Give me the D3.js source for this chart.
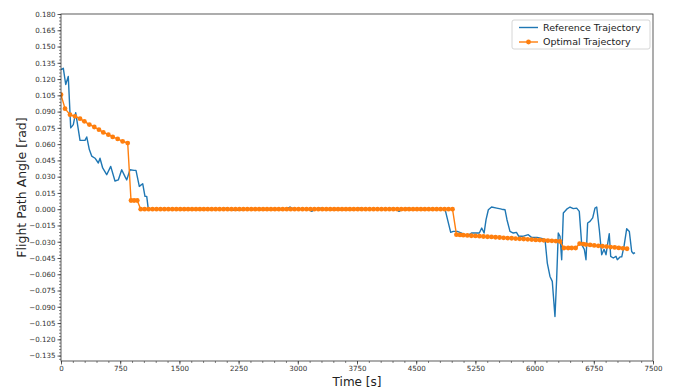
<!DOCTYPE html>
<html><head><meta charset="utf-8">
<script src="https://cdn.jsdelivr.net/npm/d3@7"></script>
<style>body{margin:0;background:#fff}svg{display:block}text{font-family:"DejaVu Sans",sans-serif}</style>
</head><body><svg id="c" width="673" height="387"></svg>
<script>
const refTime=[0,9,29,60,92,123,156,186,241,304,326,359,389,431,473,494,528,579,630,684,726,769,811,833,874,925,950,992,1035,1064,1086,1106,1500,2050,2099,2150,2250,2350,2450,2600,2850,2901,2950,3130,3176,3220,3281,3330,3500,3740,3788,3840,4160,4206,4250,4282,4330,4396,4450,4865,4937,4970,5020,5076,5097,5160,5200,5260,5300,5330,5360,5385,5414,5455,5520,5583,5625,5650,5688,5730,5770,5800,5850,5920,5960,6030,6090,6132,6161,6195,6224,6258,6279,6300,6322,6343,6364,6407,6449,6491,6533,6566,6597,6630,6651,6672,6702,6736,6765,6787,6820,6850,6880,6905,6921,6946,6964,6997,7031,7048,7082,7104,7133,7167,7200,7230,7251,7272];
const refAngle=[0.129,0.129,0.130,0.115,0.1225,0.075,0.078,0.089,0.0635,0.0635,0.0666,0.055,0.049,0.047,0.0426,0.047,0.038,0.0318,0.0395,0.026,0.027,0.0364,0.030,0.027,0.0364,0.0358,0.0358,0.021,0.0235,0.0118,0.0118,0.000,0,0,0.001,-0.001,-0.001,0,0.0005,0,0,0.002,0,0,-0.002,0,0.001,0,-0.0005,0,0.001,0,0,0.001,0,-0.002,0,0.001,0,0,-0.0214,-0.0205,-0.0205,-0.022,-0.0235,-0.024,-0.022,-0.022,-0.022,-0.0174,-0.022,-0.0097,-0.0005,0.002,0.001,0,-0.0005,-0.0097,-0.0205,-0.022,-0.0214,-0.025,-0.025,-0.0235,-0.026,-0.026,-0.027,-0.028,-0.0497,-0.062,-0.0666,-0.099,-0.065,-0.022,-0.025,-0.0466,-0.0035,0,0.002,0.0005,0.001,-0.002,-0.0327,-0.037,-0.0466,-0.0127,-0.0112,-0.008,0.001,0.002,-0.019,-0.042,-0.037,-0.042,-0.034,-0.0226,-0.0435,-0.045,-0.0435,-0.0466,-0.044,-0.044,-0.034,-0.018,-0.0205,-0.039,-0.041,-0.040];

const optTime=[0,51,114,177,241,296,359,422,481,536,600,655,718,781,845,
887,926,966,
1010,1060,1110,1160,1210,1260,1310,1360,1410,1460,1510,1560,1610,1660,1710,1760,1810,1860,1910,1960,2010,2060,2110,2160,2210,2260,2310,2360,2410,2460,2510,2560,2610,2660,2710,2760,2810,2860,2910,2960,3010,3060,3110,3160,3210,3260,3310,3360,3410,3460,3510,3560,3610,3660,3710,3760,3810,3860,3910,3960,4010,4060,4110,4160,4210,4260,4310,4360,4410,4460,4510,4560,4610,4660,4710,4760,4810,4860,4910,4960,5010,5055,
5097,5148,5199,5250,5301,5352,5403,5454,5505,5556,5607,5658,5709,5760,5811,5862,5913,5964,6015,6066,6117,6168,6219,6270,6321,6372,6425,
6470,6520,6570,6617,
6651,6703,6755,6807,6859,6911,6963,7015,7067,7119,7171,7223,7272];
const optAngle=[0.1056,0.0927,0.0872,0.0856,0.0835,0.081,0.078,0.0758,0.0733,0.0708,0.0687,0.0666,0.0648,0.0625,0.061,
0.008,0.008,0.008,
0,0,0,0,0,0,0,0,0,0,0,0,0,0,0,0,0,0,0,0,0,0,0,0,0,0,0,0,0,0,0,0,0,0,0,0,0,0,0,0,0,0,0,0,0,0,0,0,0,0,0,0,0,0,0,0,0,0,0,0,0,0,0,0,0,0,0,0,0,0,0,0,0,0,0,0,0,0,0,0,
-0.0235,-0.0237,-0.0240,-0.0242,-0.0245,-0.0247,-0.0249,-0.0252,-0.0254,-0.0256,-0.0259,-0.0261,-0.0264,-0.0266,-0.0268,-0.0271,-0.0273,-0.0275,-0.0278,-0.0280,-0.0283,-0.0285,-0.0287,-0.0290,-0.0292,-0.0294,-0.0297,
-0.0358,-0.0358,-0.0358,-0.0358,
-0.0318,-0.0322,-0.0326,-0.0330,-0.0334,-0.0338,-0.0342,-0.0345,-0.0349,-0.0353,-0.0357,-0.0361,-0.0365];

const xTicks=[0,750,1500,2250,3000,3750,4500,5250,6000,6750,7500];
const yTicks=[-0.135,-0.120,-0.105,-0.090,-0.075,-0.060,-0.045,-0.030,-0.015,0.000,0.015,0.030,0.045,0.060,0.075,0.090,0.105,0.120,0.135,0.150,0.165,0.180];
const seriesNames=["Reference Trajectory","Optimal Trajectory"];

const L=61,R=653,T=14,B=361;
const svg=d3.select("#c");
const x=d3.scaleLinear().domain([0,7500]).range([L,R]);
const y=d3.scaleLinear().domain([-0.14,0.18]).range([B,T]);
const fmt=v=>d3.format(".3f")(v).replace("-","\u2212");

// minor ticks
const xMinor=d3.range(0,7501,150), yMinor=d3.range(-0.138,0.1801,0.003);
svg.append("g").attr("transform",`translate(0,${B})`).call(d3.axisBottom(x).tickValues(xMinor).tickSize(2).tickFormat(""))
 .call(g=>{g.select(".domain").remove();g.selectAll("line").attr("stroke","#333").attr("stroke-width",0.6);});
svg.append("g").attr("transform",`translate(${L},0)`).call(d3.axisLeft(y).tickValues(yMinor).tickSize(2).tickFormat(""))
 .call(g=>{g.select(".domain").remove();g.selectAll("line").attr("stroke","#333").attr("stroke-width",0.6);});

const gx=svg.append("g").attr("transform",`translate(0,${B})`).call(d3.axisBottom(x).tickValues(xTicks).tickSize(3.5).tickPadding(1.5).tickFormat(d3.format("d")));
const gy=svg.append("g").attr("transform",`translate(${L},0)`).call(d3.axisLeft(y).tickValues(yTicks).tickSize(3.5).tickPadding(2).tickFormat(fmt));
[gx,gy].forEach(g=>{g.select(".domain").remove();g.selectAll("line").attr("stroke","#333").attr("stroke-width",0.8);
 g.selectAll("text").attr("font-family","DejaVu Sans").attr("font-size",7.1).attr("fill","#333");});

svg.append("clipPath").attr("id","pa").append("rect").attr("x",L).attr("y",T).attr("width",R-L).attr("height",B-T);

const refData=refTime.map((t,i)=>[t,refAngle[i]]);
const optData=optTime.map((t,i)=>[t,optAngle[i]]);
const line=d3.line().x(d=>x(d[0])).y(d=>y(d[1]));
const pg=svg.append("g").attr("clip-path","url(#pa)");
pg.append("path").datum(refData).attr("d",line).attr("fill","none").attr("stroke","#1f77b4").attr("stroke-width",1.4).attr("stroke-linejoin","round");
pg.append("path").datum(optData).attr("d",line).attr("fill","none").attr("stroke","#ff7f0e").attr("stroke-width",1.4).attr("stroke-linejoin","round");
pg.selectAll("circle").data(optData).enter().append("circle").attr("cx",d=>x(d[0])).attr("cy",d=>y(d[1])).attr("r",2.4).attr("fill","#ff7f0e");

svg.append("rect").attr("x",L).attr("y",T).attr("width",R-L).attr("height",B-T).attr("fill","none").attr("stroke","#333").attr("stroke-width",0.8);

// axis labels
svg.append("text").attr("x",357).attr("y",385.5).attr("text-anchor","middle").attr("font-size",12).attr("fill","#222").text("Time [s]");
svg.append("text").attr("transform","translate(26,187.5) rotate(-90)").attr("text-anchor","middle").attr("font-size",12.5).attr("fill","#222").text("Flight Path Angle [rad]");

// legend
const lg=svg.append("g");
lg.append("rect").attr("x",512).attr("y",20).attr("width",138).attr("height",29).attr("rx",2).attr("fill","#fff").attr("fill-opacity",0.8).attr("stroke","#ccc").attr("stroke-width",0.8);
const cols=["#1f77b4","#ff7f0e"];
seriesNames.forEach((n,i)=>{
 const yy=27.5+i*14.5;
 lg.append("line").attr("x1",519).attr("x2",538).attr("y1",yy).attr("y2",yy).attr("stroke",cols[i]).attr("stroke-width",1.4);
 if(i===1) lg.append("circle").attr("cx",528.5).attr("cy",yy).attr("r",2.4).attr("fill",cols[i]);
 lg.append("text").attr("x",543).attr("y",yy).attr("dy","0.35em").attr("font-size",9.5).attr("fill","#222").text(n);
});
</script></body></html>
